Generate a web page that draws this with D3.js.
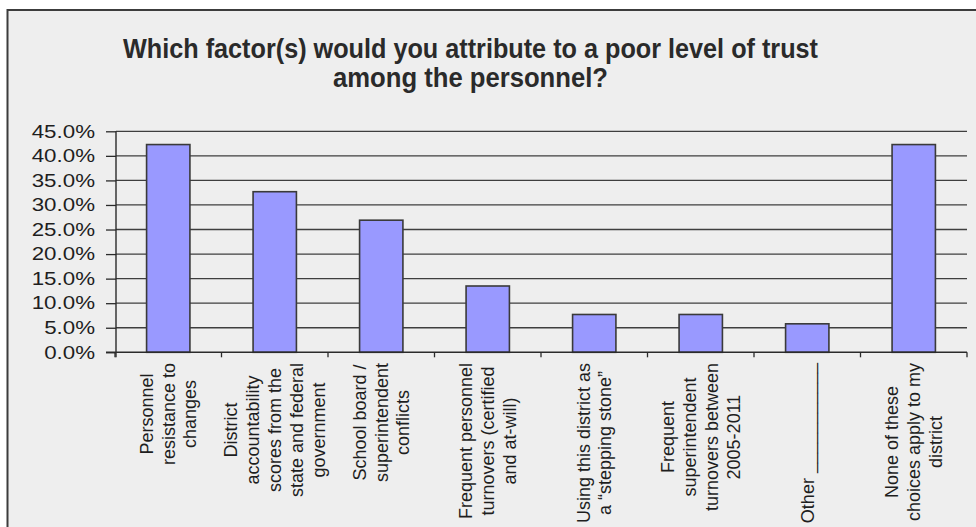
<!DOCTYPE html>
<html>
<head>
<meta charset="utf-8">
<script src="https://cdn.jsdelivr.net/npm/d3@7"></script>
<style>
  html, body { margin: 0; padding: 0; background: #ffffff; }
  svg { display: block; }
  text { font-family: "Liberation Sans", Arial, sans-serif; fill: #1e1e1e; }
</style>
</head>
<body>
<svg id="chart" width="976" height="527"></svg>
<script>
// Survey responses: share of respondents choosing each factor
const categories = [
  ["Personnel", "resistance to", "changes"],
  ["District", "accountability", "scores from the", "state and federal", "government"],
  ["School board /", "superintendent", "conflicts"],
  ["Frequent personnel", "turnovers (certified", "and at-will)"],
  ["Using this district as", "a \u201cstepping stone\u201d"],
  ["Frequent", "superintendent", "turnovers between", "2005-2011"],
  ["Other ___________"],
  ["None of these", "choices apply to my", "district"]
];
const values = [0.423, 0.327, 0.269, 0.135, 0.077, 0.077, 0.058, 0.423];
const yTicks = [0, 0.05, 0.10, 0.15, 0.20, 0.25, 0.30, 0.35, 0.40, 0.45];
const titleLines = [
  "Which factor(s) would you attribute to a poor level of trust",
  "among the personnel?"
];

const svg = d3.select("#chart");
const W = 976, H = 527;
const plot = { left: 116, right: 967, top: 131.3, bottom: 352.3 };

// chart area with its frame
svg.append("rect")
  .attr("x", 7.5).attr("y", 10)
  .attr("width", W + 20).attr("height", H + 20)
  .attr("fill", "#eeeeee")
  .attr("stroke", "#3c3c3c").attr("stroke-width", 2);

// title
const titleWidths = [695, 275];
titleLines.forEach((t, i) => {
  svg.append("text")
    .attr("x", 470.5)
    .attr("y", 57.5 + i * 29)
    .attr("text-anchor", "middle")
    .attr("font-size", 28)
    .attr("font-weight", "bold")
    .attr("textLength", titleWidths[i])
    .attr("lengthAdjust", "spacingAndGlyphs")
    .style("fill", "#2a2a2a")
    .text(t);
});

const idx = categories.map((d, i) => i);
const pad = 0.593;
const x = d3.scaleBand()
  .domain(idx)
  .range([plot.left - 1, plot.right])
  .paddingInner(pad)
  .paddingOuter(pad / 2);

const y = d3.scaleLinear()
  .domain([0, 0.45])
  .range([plot.bottom, plot.top]);

// horizontal gridlines
svg.append("g")
  .selectAll("line")
  .data(yTicks.slice(1))
  .join("line")
  .attr("x1", plot.left).attr("x2", plot.right)
  .attr("y1", d => y(d)).attr("y2", d => y(d))
  .attr("stroke", "#3e3e3e").attr("stroke-width", 1.3);

// y axis with ticks and percentage labels
const yAxis = d3.axisLeft(y)
  .tickValues(yTicks)
  .tickFormat(d3.format(".1%"))
  .tickSize(10)
  .tickSizeOuter(0)
  .tickPadding(11);

const gy = svg.append("g")
  .attr("transform", `translate(${plot.left},0)`)
  .call(yAxis);
gy.select(".domain").remove();
gy.selectAll(".tick line").attr("stroke", "#2a2a2a").attr("stroke-width", 1.3);
gy.selectAll(".tick text")
  .attr("font-size", 18)
  .attr("font-family", "Liberation Sans, Arial, sans-serif")
  .style("fill", "#1e1e1e")
  .each(function () {
    // slightly widened glyphs
    const len = this.getComputedTextLength();
    d3.select(this)
      .attr("textLength", len * 1.24)
      .attr("lengthAdjust", "spacingAndGlyphs");
  });

// bars
svg.append("g")
  .selectAll("rect")
  .data(values)
  .join("rect")
  .attr("x", (d, i) => x(i))
  .attr("width", x.bandwidth())
  .attr("y", d => y(d))
  .attr("height", d => y(0) - y(d))
  .attr("fill", "#9999ff")
  .attr("stroke", "#3a3a3a")
  .attr("stroke-width", 1.6);

// axis lines
svg.append("line")
  .attr("x1", plot.left).attr("x2", plot.left)
  .attr("y1", y(0.45)).attr("y2", y(0) + 5)
  .attr("stroke", "#2a2a2a").attr("stroke-width", 1.4);
svg.append("line")
  .attr("x1", plot.left - 10).attr("x2", plot.right)
  .attr("y1", y(0)).attr("y2", y(0))
  .attr("stroke", "#2a2a2a").attr("stroke-width", 1.4);

// category boundary ticks below the x axis
const step = x.step();
const x0 = x.range()[0];
svg.append("g")
  .selectAll("line")
  .data(d3.range(categories.length + 1))
  .join("line")
  .attr("x1", d => x0 + d * step).attr("x2", d => x0 + d * step)
  .attr("y1", y(0)).attr("y2", y(0) + 5)
  .attr("stroke", "#2a2a2a").attr("stroke-width", 1.3);

// rotated, multi-line category labels
const lineGap = 21.8;
const labelTop = 363;
categories.forEach((lines, i) => {
  const cx = x(i) + x.bandwidth() / 2;
  const g = svg.append("g");
  const texts = lines.map((t, j) => {
    const lx = cx + (j - (lines.length - 1) / 2) * lineGap;
    return g.append("text")
      .attr("font-size", 18)
      .attr("text-anchor", "middle")
      .attr("dy", "0.35em")
      .attr("data-x", lx)
      .text(t);
  });
  const maxLen = d3.max(texts, t => t.node().getComputedTextLength());
  const cy = labelTop + maxLen / 2;
  texts.forEach(t => {
    t.attr("transform", `translate(${t.attr("data-x")},${cy}) rotate(-90)`);
  });
});
</script>
</body>
</html>
